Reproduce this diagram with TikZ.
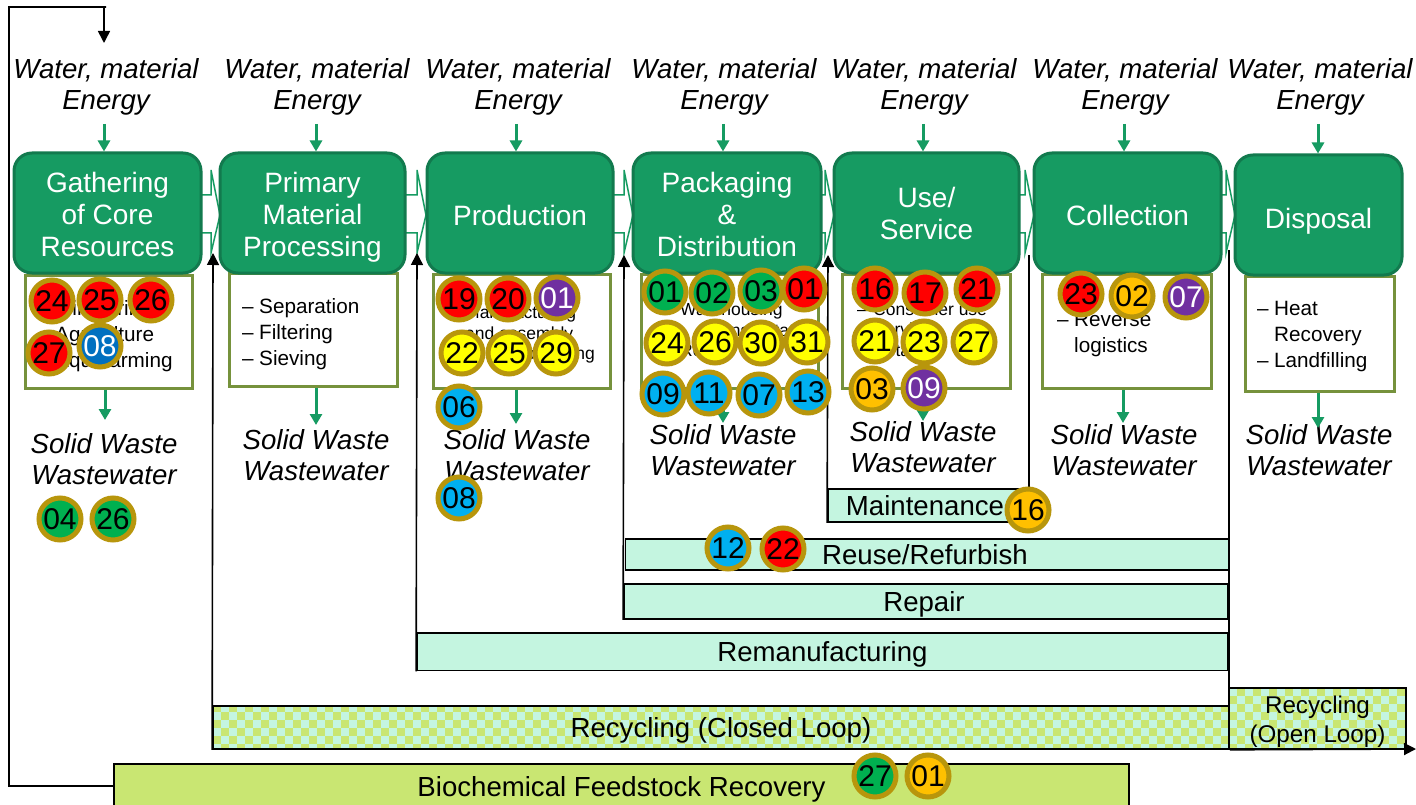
\documentclass[tikz,border=0pt]{standalone}
\usepackage{fontspec}
\setmainfont{Liberation Sans}
\usetikzlibrary{arrows.meta,calc}
\definecolor{stagegreen}{HTML}{169B62}
\definecolor{stageedge}{HTML}{127A4E}
\definecolor{olive}{HTML}{76923C}
\definecolor{mint}{HTML}{C4F5E0}
\definecolor{lime}{HTML}{C9E672}
\definecolor{gold}{HTML}{B8960C}
\definecolor{bred}{HTML}{FF0000}
\definecolor{bgreen}{HTML}{00B050}
\definecolor{byellow}{HTML}{FFFF00}
\definecolor{bblue}{HTML}{00B0F0}
\definecolor{bdblue}{HTML}{0070C0}
\definecolor{bpurple}{HTML}{7030A0}
\definecolor{borange}{HTML}{FFC000}
\tikzset{
 x=1pt,y=-1pt,
 stage/.style={draw=stageedge,fill=stagegreen,line width=3pt,rounded corners=18pt,text=white,align=center,font=\fontsize{28}{32}\selectfont,inner sep=0pt},
 subbox/.style={draw=olive,fill=white,line width=3pt,inner sep=0pt},
 listtext/.style={align=left,anchor=north west,inner sep=0pt,font=\fontsize{20.7}{26}\selectfont},
 listsmall/.style={align=left,anchor=north west,inner sep=0pt,font=\fontsize{17.5}{20.5}\selectfont},
 inout/.style={align=center,inner sep=0pt,font=\fontsize{27.6}{31}\selectfont\itshape},
 flow/.style={draw=stagegreen,line width=3pt,-{Triangle[length=11pt,width=12pt]}},
 loopline/.style={draw=black,line width=1.6pt,-{Triangle[length=12pt,width=12pt]}},
 plainline/.style={draw=black,line width=1.6pt},
 bar/.style={draw=black,line width=1.6pt,fill=mint,inner sep=0pt,font=\fontsize{27.6}{30}\selectfont,align=center,text height=20pt,text depth=0pt},
 openbar/.style={draw=black,line width=1.6pt,fill=none,inner sep=0pt,font=\fontsize{24.2}{29}\selectfont,align=center},
 badge/.style={circle,draw=gold,line width=5pt,minimum size=42pt,inner sep=0pt,font=\fontsize{30}{30}\selectfont},
 bR/.style={badge,fill=bred},
 bG/.style={badge,fill=bgreen},
 bY/.style={badge,fill=byellow},
 bB/.style={badge,fill=bblue},
 bD/.style={badge,fill=bdblue,text=white},
 bP/.style={badge,fill=bpurple,text=white},
 bO/.style={badge,fill=borange},
 blockarrow/.style={draw=stagegreen,fill=white,line width=1.5pt,line join=miter},
}
\newcommand{\blockarr}[2]{% start x, tip x
 \draw[blockarrow] (#1,195) -- (#2-9,195) -- (#2-9,170) -- (#2,215) -- (#2-9,253) -- (#2-9,233) -- (#1,233);}
\newcommand{\dashitem}{\makebox[17pt][l]{--}}
\newcommand{\pad}[1]{\rule{0pt}{#1pt}}
\begin{document}
\begin{tikzpicture}
\useasboundingbox (0,0) rectangle (1416,805);
\fill[white] (0,0) rectangle (1416,805);
% block arrows
\blockarr{200}{220}
\blockarr{404}{426}
\blockarr{612}{633}
\blockarr{820}{834}
\blockarr{1018}{1034}
\blockarr{1220}{1235}
% sub boxes
\node[subbox,minimum width=167pt,minimum height=113pt] (s1) at (108.5,331.5) {};
\node[subbox,minimum width=168pt,minimum height=113pt] (s2) at (313,329.5) {};
\node[subbox,minimum width=177pt,minimum height=114pt] (s3) at (521.5,331) {};
\node[subbox,minimum width=177pt,minimum height=114pt] (s4) at (729.5,331) {};
\node[subbox,minimum width=168pt,minimum height=114pt] (s5) at (926,331) {};
\node[subbox,minimum width=169pt,minimum height=114pt] (s6) at (1126.5,331) {};
\node[subbox,minimum width=149pt,minimum height=115pt] (s7) at (1319.5,333.5) {};
% list texts
\node[listtext] (t1) at (38,300) {\dashitem Mine drilling\\\hspace*{17pt}Agriculture\\\dashitem Aquafarming};
\node[listtext] (t2) at (242,298) {\dashitem Separation\\\dashitem Filtering\\\dashitem Sieving};
\node[listsmall] (t3) at (450,306) {\makebox[15pt][l]{--}Manufacturing\\\hspace*{15pt}and assembly\\\hspace*{58pt}Processing};
\node[listsmall] (t4) at (664,303) {\makebox[16pt][l]{--}Warehousing\\\hspace*{41pt}Transportation\\\makebox[16pt][l]{--}Retail};
\node[listsmall] (t5) at (857,303) {\makebox[16pt][l]{--}Consumer use\\\makebox[16pt][l]{--}Service\\\makebox[16pt][l]{--}Retail};
\node[listtext] (t6) at (1057,312) {\dashitem Reverse\\\hspace*{17pt}logistics};
\node[listtext] (t7) at (1257,301.5) {\dashitem Heat\\\hspace*{17pt}Recovery\\\dashitem Landfilling};
% stages
\node[stage,minimum width=187pt,minimum height=120pt] (b1) at (107.5,213) {\pad{24}Gathering\\of Core\\Resources};
\node[stage,minimum width=185pt,minimum height=120pt] (b2) at (312.5,213) {\pad{29}Primary\\Material\\Processing};
\node[stage,minimum width=186pt,minimum height=120pt] (b3) at (520,213) {\pad{26}Production};
\node[stage,minimum width=188pt,minimum height=120pt] (b4) at (727,213) {\pad{24}Packaging\\\&\\Distribution};
\node[stage,minimum width=185pt,minimum height=120pt] (b5) at (926.5,213) {\pad{22}Use/\\Service};
\node[stage,minimum width=187pt,minimum height=120pt] (b6) at (1127.5,213) {\pad{26}Collection};
\node[stage,minimum width=167pt,minimum height=120pt] (b7) at (1318.5,215) {\pad{32}Disposal};
% inputs
\foreach \n/\x in {1/106,2/317,3/518,4/724,5/924,6/1125,7/1320}{
 \node[inout] (w\n) at (\x,87) {Water, material\\Energy};
}
\foreach \n/\x in {1/104,2/316,3/516,4/723,5/923,6/1124,7/1318}{
 \coordinate (wa\n) at (\x,124);
 \draw[flow] (wa\n) -- (wa\n |- b\n.north);
}
% outputs
\node[inout] (o1) at (104,459.5) {Solid Waste\\Wastewater};
\node[inout] (o2) at (316,455.5) {Solid Waste\\Wastewater};
\node[inout] (o3) at (517,455.5) {Solid Waste\\Wastewater};
\node[inout] (o4) at (723,450.5) {Solid Waste\\Wastewater};
\node[inout] (o5) at (923,447.5) {Solid Waste\\Wastewater};
\node[inout] (o6) at (1124,450.5) {Solid Waste\\Wastewater};
\node[inout] (o7) at (1319,450.5) {Solid Waste\\Wastewater};
\foreach \n/\x/\y in {1/105/420,2/316/425,3/516/424,4/723/423,5/923/421,6/1123/423,7/1318/428}{
 \coordinate (oa\n) at (\x,\y);
 \draw[flow] (oa\n |- s\n.south) -- (oa\n);
}
% checker fills
\begin{scope}
 \clip (213,706) rectangle (1229,749) (1229,688) rectangle (1406,749);
 \fill[mint] (213,688) rectangle (1406,752);
 \foreach \i in {0,...,149}{\foreach \j in {0,...,7}{
  \pgfmathtruncatemacro{\p}{mod(\i+\j,2)}
  \ifnum\p=0 \fill[lime] (213+8*\i,688+8*\j) rectangle ++(8,8);\fi
 }}
\end{scope}
% bars
\node[bar,fill=none,minimum width=1016pt,minimum height=43pt] (recc) at (721,727.5) {Recycling (Closed Loop)};
\node[openbar,minimum width=177pt,minimum height=61pt] (reco) at (1317.5,718.5) {\pad{24}Recycling\\(Open Loop)};
\node[bar,minimum width=811pt,minimum height=37.5pt] (reman) at (822.5,651.75) {Remanufacturing};
\node[bar,minimum width=604pt,minimum height=35pt] (repair) at (926,601.5) {\hspace*{-4pt}Repair};
\node[bar,minimum width=603pt,minimum height=31pt] (reuse) at (927,554.5) {\hspace*{-4pt}Reuse/Refurbish};
\node[bar,minimum width=201pt,minimum height=33pt] (maint) at (928.5,505.5) {\hspace*{-7pt}Maintenance};
\node[bar,fill=lime,minimum width=1015pt,minimum height=44pt] (bio) at (621.5,786) {Biochemical Feedstock Recovery};
% feedback connectors
\coordinate (top) at (1229,250);
\coordinate (end) at (1416,749);
\coordinate (mtop) at (1029,255);
\coordinate (looptop) at (9,7);
\draw[plainline,line width=2.2pt] (top) -- (top |- reco.south);
\draw[plainline] (mtop) -- (mtop |- maint.north);
\draw[loopline] (recc.south west) -- (recc.north west) -- (213,253);
\draw[loopline] (reman.south west) -- (reman.north west) -- (417,253);
\draw[loopline] (repair.south west) -- (repair.north west) -- (624,255);
\draw[loopline] (maint.south west) -- (maint.north west) -- (828,255);
\draw[loopline] (recc.south east) -- (end);
\draw[loopline] (bio.west) -- (bio.west -| looptop) -- (looptop) -- (looptop -| w1.north) -- ++(-2,0) -- ++(0,36);
% badges
\foreach \n/\st/\t/\x/\y in {
a1/bR/24/52/301,a2/bR/25/100/300,a3/bR/26/151/300,a4/bR/27/49/353,a5/bD/08/100/346,
a6/bG/04/60/519,a7/bG/26/113/519,
c1/bR/19/459/299,c2/bR/20/508/299,c3/bP/01/557/298,c4/bY/22/462/353,c5/bY/25/509/353,c6/bY/29/556/353,c7/bB/06/459/407,c8/bB/08/459/498,
d1/bG/01/665/292,d2/bG/02/712/293,d3/bG/03/761/291,d4/bR/01/804/289,
d5/bY/24/667/343,d6/bY/26/715/342,d7/bY/30/761/343,d8/bY/31/807/342,
d9/bB/09/663/394,d10/bB/11/709/393,d11/bB/07/759/395,d12/bB/13/808/392,
e1/bR/16/875/289,e2/bR/17/925/293,e3/bR/21/977/289,e4/bY/21/875/341,e5/bY/23/924/342,e6/bY/27/974/342,e7/bO/03/872/389,e8/bP/09/924/388,
f1/bR/23/1081/294,f2/bO/02/1132/296,f3/bP/07/1186/297,
g1/bO/16/1028/510,g2/bB/12/728/548,g3/bR/22/783/549,g4/bG/27/875/776,g5/bO/01/928/776}{
 \node[\st] (\n) at (\x,\y) {\t};
}
\end{tikzpicture}
\end{document}
